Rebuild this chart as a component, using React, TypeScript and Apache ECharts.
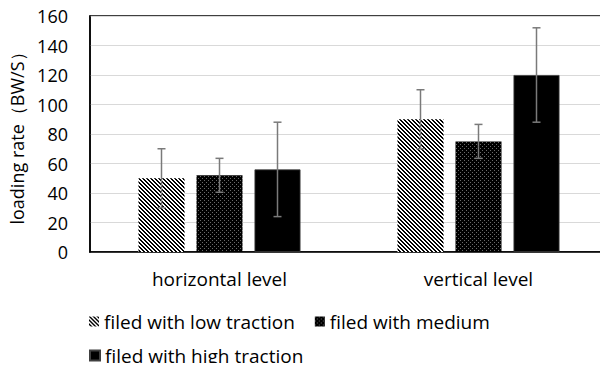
import React, { useEffect, useRef } from "react";
import * as echarts from "echarts";

const categories = ["horizontal level", "vertical level"];
const seriesNames = ["filed with low traction", "filed with medium", "filed with high traction"];
const lowValues = [50, 90];
const lowErr = [20, 20];
const mediumValues = [52, 75];
const mediumErr = [11.5, 11.5];
const highValues = [56, 120];
const highErr = [32, 32];
const yTicks = { min: 0, max: 160, interval: 20 };

const BAR_W = 46;
const BAR_GAP = 12;
const FONT = "'Open Sans', 'Noto Sans', sans-serif";

function makeStripe(): HTMLCanvasElement {
  const c = document.createElement("canvas");
  c.width = 4;
  c.height = 4;
  const ctx = c.getContext("2d")!;
  const img = ctx.createImageData(4, 4);
  for (let y = 0; y < 4; y++) {
    for (let x = 0; x < 4; x++) {
      const on = ((x - y + 8) % 4) < 2;
      const v = on ? 0 : 255;
      const i = (y * 4 + x) * 4;
      img.data[i] = v; img.data[i + 1] = v; img.data[i + 2] = v; img.data[i + 3] = 255;
    }
  }
  ctx.putImageData(img, 0, 0);
  return c;
}

function makeDots(): HTMLCanvasElement {
  const c = document.createElement("canvas");
  c.width = 4;
  c.height = 4;
  const ctx = c.getContext("2d")!;
  ctx.fillStyle = "#000";
  ctx.fillRect(0, 0, 4, 4);
  ctx.fillStyle = "#6a6a6a";
  ctx.fillRect(0, 0, 1, 1);
  ctx.fillRect(2, 2, 1, 1);
  return c;
}

export default function App() {
  const ref = useRef<HTMLDivElement>(null);
  useEffect(() => {
    if (!ref.current) return;
    const chart = echarts.init(ref.current, null, { renderer: "svg" });
    const stripe = { image: makeStripe(), repeat: "repeat" } as any;
    const dots = { image: makeDots(), repeat: "repeat" } as any;
    const colors = [stripe, dots, "#000"];
    const vals = [lowValues, mediumValues, highValues];
    const errs = [lowErr, mediumErr, highErr];

    const errSeries = vals.map((v, si) => ({
      type: "custom",
      name: seriesNames[si] + " err",
      z: 10,
      silent: true,
      data: v.map((val, i) => [i, val, errs[si][i]]),
      renderItem: (params: any, api: any) => {
        const idx = api.value(0);
        const val = api.value(1);
        const e = api.value(2);
        const offset = (si - 1) * (BAR_W + BAR_GAP);
        const top = api.coord([idx, val + e]);
        const bot = api.coord([idx, val - e]);
        const x = top[0] + offset;
        const cap = 4;
        const st = { stroke: "#7a7a7a", lineWidth: 1.5 };
        return {
          type: "group",
          children: [
            { type: "line", shape: { x1: x, y1: top[1], x2: x, y2: bot[1] }, style: st },
            { type: "line", shape: { x1: x - cap, y1: top[1], x2: x + cap, y2: top[1] }, style: st },
            { type: "line", shape: { x1: x - cap, y1: bot[1], x2: x + cap, y2: bot[1] }, style: st },
          ],
        };
      },
    }));

    const legendBase = {
      icon: "rect",
      itemWidth: 10,
      itemHeight: 10,
      itemGap: 20,
      textStyle: { fontFamily: FONT, fontSize: 19, color: "#000" },
      selectedMode: false,
      left: 84,
    };

    chart.setOption({
      animation: false,
      textStyle: { fontFamily: FONT },
      grid: {
        left: 90,
        top: 16,
        right: -8,
        bottom: 119,
        show: true,
        borderColor: "#000",
        borderWidth: 1.5,
      },
      legend: [
        {
          ...legendBase,
          top: 307,
          data: [0, 1].map((i) => ({ name: seriesNames[i], itemStyle: { color: colors[i] } })),
        },
        {
          ...legendBase,
          top: 341,
          data: [2].map((i) => ({ name: seriesNames[i], itemStyle: { color: colors[i] } })),
        },
      ],
      xAxis: {
        type: "category",
        data: categories,
        axisLine: { show: true, lineStyle: { color: "#000", width: 1.5 } },
        axisTick: { show: false },
        axisLabel: { fontSize: 19, color: "#000", margin: 17, fontFamily: FONT },
      },
      yAxis: {
        type: "value",
        min: yTicks.min,
        max: yTicks.max,
        interval: yTicks.interval,
        name: "loading rate（BW/S）",
        nameLocation: "middle",
        nameGap: 63,
        nameTextStyle: { fontSize: 18, color: "#000", fontFamily: FONT },
        axisLine: { show: true, lineStyle: { color: "#000", width: 1.5 } },
        axisTick: { show: false },
        axisLabel: { fontSize: 18, color: "#000", margin: 22, fontFamily: FONT },
        splitLine: { lineStyle: { color: "#d9d9d9", width: 1 } },
      },
      series: [
        ...vals.map((v, i) => ({
          type: "bar",
          name: seriesNames[i],
          data: v,
          barWidth: BAR_W,
          barGap: (BAR_GAP / BAR_W) * 100 + "%",
          itemStyle: { color: colors[i], borderColor: "#404040", borderWidth: i === 2 ? 0.8 : 0 },
        })),
        ...errSeries,
      ],
    } as any);
    return () => chart.dispose();
  }, []);
  return <div ref={ref} style={{ width: 608, height: 371, margin: -8 }} />;
}
